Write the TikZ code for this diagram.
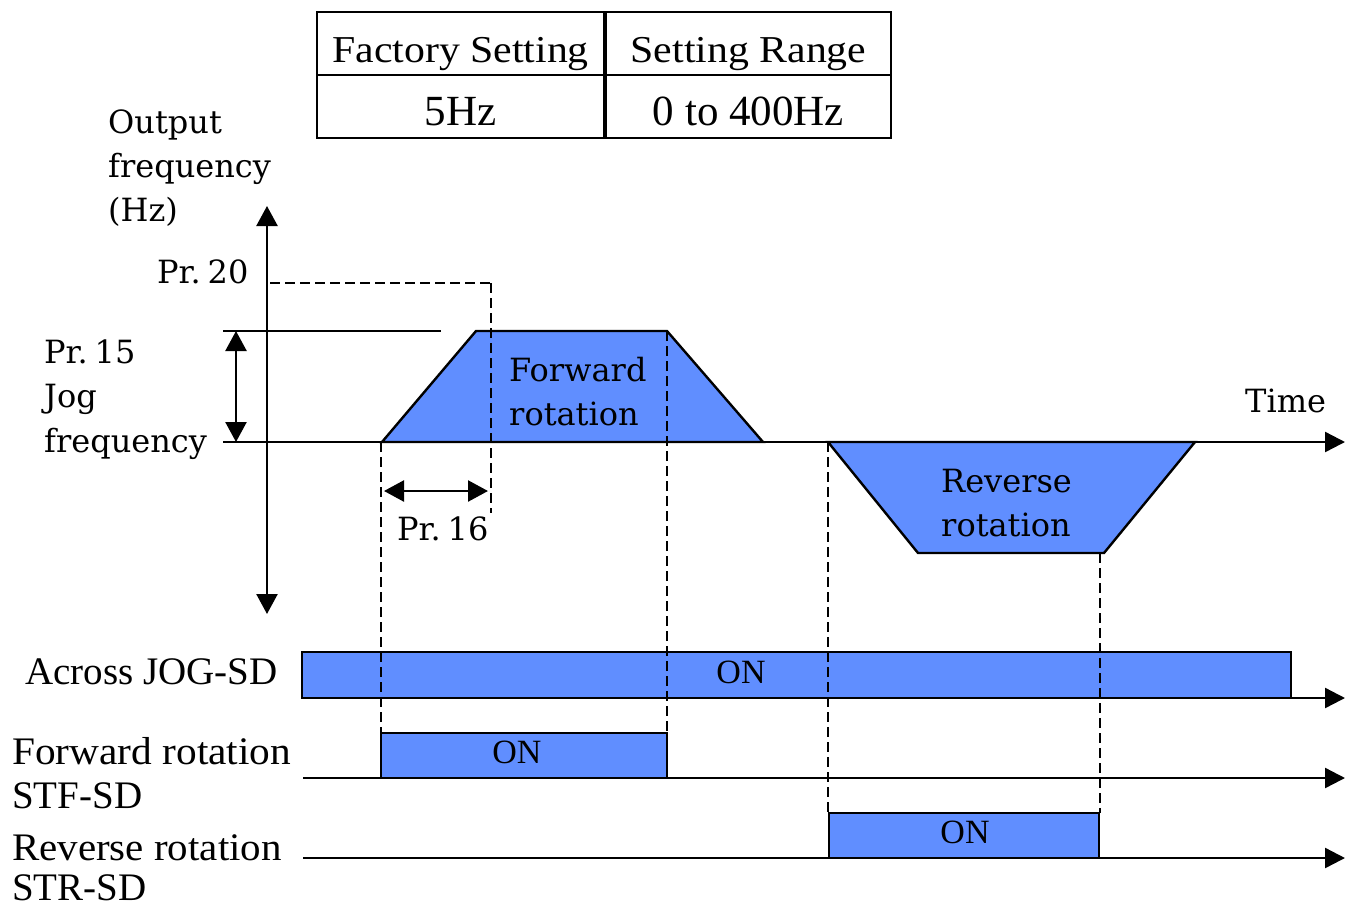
\documentclass[tikz,border=0pt]{standalone}
\usepackage{fontspec}
\usepackage{graphicx}
\setmainfont{Liberation Serif}
\newfontfamily\lucfont{DejaVu Serif}
\usetikzlibrary{arrows.meta}
\definecolor{fillblue}{RGB}{96,142,255}
\newcommand{\celltext}[1]{\raisebox{-18.5pt}[0pt][0pt]{\fontsize{38}{42}\selectfont\scalebox{1.1}[1]{#1}}}
\newcommand{\celltextb}[1]{\raisebox{-18.5pt}[0pt][0pt]{\fontsize{43}{46}\selectfont #1}}
\begin{document}
\begin{tikzpicture}[x=1pt,y=-1pt,
 line/.style={line width=2.4pt},
 dashline/.style={line width=2.4pt, dash pattern=on 10pt off 5pt},
 tip/.style={-{Triangle[width=20pt,length=20pt]}},
 dtip/.style={{Triangle[width=21pt,length=20pt]}-{Triangle[width=21pt,length=20pt]}},
 cell/.style={draw, line width=2.2pt, minimum height=63pt, inner sep=0pt},
 lbl/.style={font=\lucfont\fontsize{32}{44}\selectfont, inner sep=0pt, anchor=base west},
 tlbl/.style={font=\fontsize{39}{44}\selectfont, inner sep=0pt, anchor=base west},
 ontext/.style={font=\fontsize{34}{40}\selectfont, inner sep=0pt},
 bar/.style={draw, fill=fillblue, line width=2.4pt}
]
\useasboundingbox (0,0) rectangle (1345,906);

% table
\node[cell, minimum width=287pt] (c1) at (460.5,43.5) {\celltext{Factory Setting}};
\node[cell, minimum width=285pt] (c2) at (748.5,43.5) {\celltext{Setting Range}};
\node[cell, minimum width=287pt] (c3) at (460.5,106.5) {\celltextb{5Hz}};
\node[cell, minimum width=285pt] (c4) at (748.5,106.5) {\celltextb{0 to 400Hz}};

% coordinates
\coordinate (vtop) at (267,206);
\coordinate (vbot) at (267,614);
\coordinate (tl) at (223,442);
\coordinate (tr) at (1345,442);
\coordinate (p15a) at (223,331);
\coordinate (p15b) at (441,331);
\coordinate (p15t) at (236,331);
\coordinate (p15d) at (236,442);
\coordinate (p20a) at (270,283);
\coordinate (p20b) at (493,283);
\coordinate (p20c) at (491,283);
\coordinate (p20d) at (491,513);
\coordinate (p16a) at (384,491);
\coordinate (p16b) at (488,491);

% trapezoids
\draw[bar] (382,442) -- (476,331) -- (667,331) -- (763,442) -- cycle;
\draw[bar] (828,442) -- (1195,442) -- (1104,553) -- (918,553) -- cycle;

% bars
\draw[bar] (302,652) rectangle (1291,698);
\draw[bar] (381,733) rectangle (667,778);
\draw[bar] (829,813) rectangle (1099,858);

% axes
\draw[line, dtip] (vtop) -- (vbot);
\draw[line, tip] (tl) -- (tr);
\draw[line] (p15a) -- (p15b);
\draw[line, dtip] (p15t) -- (p15d);
\draw[line, dtip] (p16a) -- (p16b);

\coordinate (a1l) at (302,698); \coordinate (a1r) at (1345,698);
\coordinate (a2l) at (303,778); \coordinate (a2r) at (1345,778);
\coordinate (a3l) at (303,858); \coordinate (a3r) at (1345,858);
\draw[line, tip] (a1l) -- (a1r);
\draw[line, tip] (a2l) -- (a2r);
\draw[line, tip] (a3l) -- (a3r);

% dashed
\draw[dashline] (p20a) -- (p20b);
\draw[dashline] (p20c) -- (p20d);
\coordinate (d1a) at (381,442); \coordinate (d1b) at (381,733);
\coordinate (d2a) at (667,331); \coordinate (d2b) at (667,733);
\coordinate (d3a) at (828,442); \coordinate (d3b) at (828,813);
\coordinate (d4a) at (1100,553); \coordinate (d4b) at (1100,813);
\draw[dashline] (d1a) -- (d1b);
\draw[dashline] (d2a) -- (d2b);
\draw[dashline] (d3a) -- (d3b);
\draw[dashline] (d4a) -- (d4b);

% labels
\node[lbl] (of1) at (108,133) {Output};
\node[lbl] (of2) at (108,177) {frequency};
\node[lbl] (of3) at (108,221) {(Hz)};
\node[lbl] (pr20) at (157,283) {Pr.\kern7pt 20};
\node[lbl] (pr15) at (44,363) {Pr.\kern7pt 15};
\node[lbl] (jog1) at (44,407) {Jog};
\node[lbl] (jog2) at (44,452) {frequency};
\node[lbl] (fw1) at (509,381) {Forward};
\node[lbl] (fw2) at (509,425) {rotation};
\node[lbl] (rv1) at (941,492) {Reverse};
\node[lbl] (rv2) at (941,536) {rotation};
\node[lbl] (pr16) at (397,540) {Pr.\kern7pt 16};
\node[lbl] (time) at (1245,412) {Time};

\node[tlbl, anchor=base east] (jogsd) at (278,684) {Across JOG-SD};
\node[tlbl] (stf1) at (12,764) {\scalebox{1.06}[1]{Forward rotation}};
\node[tlbl] (stf2) at (12,808) {STF-SD};
\node[tlbl] (str1) at (12,860) {\scalebox{1.05}[1]{Reverse rotation}};
\node[tlbl] (str2) at (12,900) {STR-SD};

\node[ontext] (on1) at (741,672) {ON};
\node[ontext] (on2) at (517,752) {ON};
\node[ontext] (on3) at (965,832) {ON};
\end{tikzpicture}
\end{document}
